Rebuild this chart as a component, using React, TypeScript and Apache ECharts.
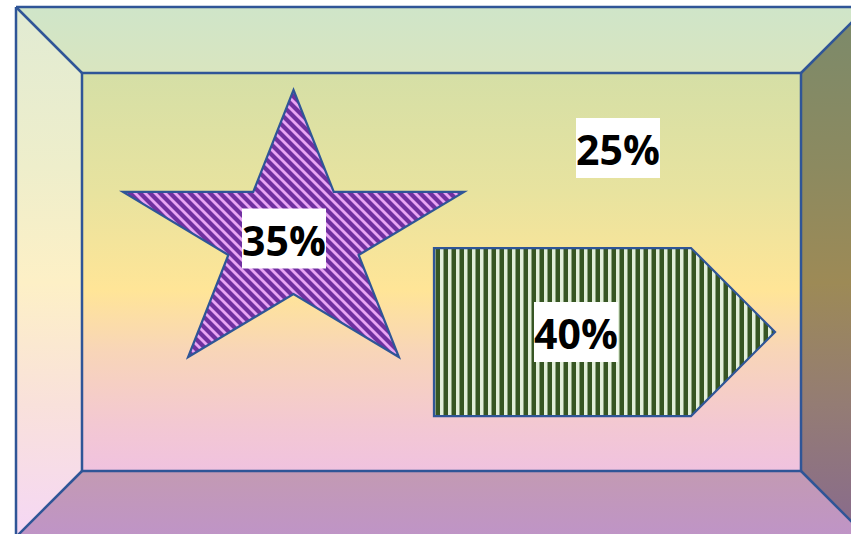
import React, { useEffect, useRef } from "react";
import * as echarts from "echarts";

// ---- data ----
const CATEGORIES = ["Slice A", "Slice B", "Slice C"];
const VALUES = [35, 25, 40];
const LABEL_SUFFIX = "%";

// ---- layout (positions / shapes, kept apart from data) ----
const SHAPE_LAYOUT = [
  { shape: "star", box: [123, 90, 341, 267], label: [284, 238.5] },
  { shape: null, box: null, label: [618, 148] },
  { shape: "homePlate", box: [434, 248, 341, 168], label: [576, 332] },
];

const BORDER = "#2f5597";

function makeTile(kind: string): { url: string; size: number } {
  const c = document.createElement("canvas");
  const size = kind === "star" ? 10 : 8;
  c.width = size;
  c.height = size;
  const ctx = c.getContext("2d")!;
  if (kind === "star") {
    ctx.fillStyle = "#7030a0";
    ctx.fillRect(0, 0, size, size);
    ctx.fillStyle = "#e8a4f4";
    for (let k = -2 * size; k <= 2 * size; k += size) {
      // band between x - y = k and x - y = k + 4
      ctx.beginPath();
      ctx.moveTo(k - 30, -30);
      ctx.lineTo(k + 4 - 30, -30);
      ctx.lineTo(k + 4 + 40, 40);
      ctx.lineTo(k + 40, 40);
      ctx.closePath();
      ctx.fill();
    }
  } else {
    ctx.fillStyle = "#375623";
    ctx.fillRect(0, 0, size, size);
    ctx.fillStyle = "#e2efd9";
    ctx.fillRect(0, 0, 3.5, size);
  }
  return { url: c.toDataURL(), size };
}

function starPoints(box: number[]) {
  const [l, t, w, h] = box;
  const pts: number[][] = [];
  for (let k = 0; k < 10; k++) {
    const a = ((-90 + k * 36) * Math.PI) / 180;
    const r = k % 2 === 0 ? 1 : 0.382;
    const nx = (r * Math.cos(a) + 0.9511) / 1.9022;
    const ny = (r * Math.sin(a) + 1) / 1.809;
    pts.push([l + nx * w, t + ny * h]);
  }
  return pts;
}

function homePlatePoints(box: number[]) {
  const [l, t, w, h] = box;
  const d = Math.min(w, h) / 2;
  return [
    [l, t],
    [l + w - d, t],
    [l + w, t + h / 2],
    [l + w - d, t + h],
    [l, t + h],
  ];
}

const vgrad = (stops: [number, string][]) =>
  new echarts.graphic.LinearGradient(
    0,
    0,
    0,
    1,
    stops.map(([offset, color]) => ({ offset, color }))
  );

export default function App() {
  const ref = useRef<HTMLDivElement>(null);
  useEffect(() => {
    if (!ref.current) return;
    const chart = echarts.init(ref.current, null, { renderer: "svg" });
    const starTile = makeTile("star");
    const plateTile = makeTile("plate");
    const patterns: Record<string, any> = {
      star: { image: starTile.url, repeat: "repeat", imageWidth: starTile.size, imageHeight: starTile.size },
      homePlate: { image: plateTile.url, repeat: "repeat", imageWidth: plateTile.size, imageHeight: plateTile.size },
    };

    const OL = 16, OT = 7, OR = 867, OB = 537;
    const IL = 82, IT = 73, IR = 801, IB = 471;

    const faces = [
      {
        points: [[OL, OT], [OR, OT], [IR, IT], [IL, IT]],
        fill: vgrad([[0, "#cfe5c9"], [1, "#d9e5bf"]]),
      },
      {
        points: [[OL, OT], [IL, IT], [IL, IB], [OL, OB]],
        fill: vgrad([[0, "#e1ebd3"], [0.3, "#eeeecb"], [0.52, "#fdf0c6"], [0.75, "#f9e1db"], [1, "#f5d7f5"]]),
      },
      {
        points: [[OR, OT], [OR, OB], [IR, IB], [IR, IT]],
        fill: vgrad([[0, "#7b8a6b"], [0.3, "#8c8a60"], [0.52, "#9d8a56"], [0.75, "#947c74"], [1, "#886a8e"]]),
      },
      {
        points: [[IL, IB], [IR, IB], [OR, OB], [OL, OB]],
        fill: vgrad([[0, "#c39ab3"], [1, "#bf94c7"]]),
      },
      {
        points: [[IL, IT], [IR, IT], [IR, IB], [IL, IB]],
        fill: vgrad([[0, "#d5dfa6"], [0.3, "#e8e39f"], [0.545, "#ffe597"], [0.7, "#f8d5b8"], [0.88, "#f3c8d2"], [1, "#f0c2df"]]),
      },
    ];

    const lineEls = [
      [[OL, OT], [OR, OT], [OR, OB], [OL, OB], [OL, OT]],
      [[IL, IT], [IR, IT], [IR, IB], [IL, IB], [IL, IT]],
      [[OL, OT], [IL, IT]],
      [[OR, OT], [IR, IT]],
      [[OR, OB], [IR, IB]],
      [[OL, OB], [IL, IB]],
    ];

    const graphic: any[] = [
      ...faces.map((f) => ({
        type: "polygon",
        z: 0,
        silent: true,
        shape: { points: f.points },
        style: { fill: f.fill },
      })),
      ...lineEls.map((pts) => ({
        type: "polyline",
        z: 1,
        silent: true,
        shape: { points: pts },
        style: { stroke: BORDER, lineWidth: 2.5, fill: null, lineJoin: "miter" },
      })),
    ];

    chart.setOption({
      animation: false,
      backgroundColor: "#ffffff",
      graphic,
      series: [
        {
          type: "custom",
          coordinateSystem: "none",
          z: 10,
          data: VALUES.map((v, i) => ({ name: CATEGORIES[i], value: [v] })),
          renderItem: (params: any, api: any) => {
            const L = SHAPE_LAYOUT[params.dataIndex];
            const children: any[] = [];
            if (L.shape && L.box) {
              const pts = L.shape === "star" ? starPoints(L.box) : homePlatePoints(L.box);
              children.push({
                type: "polygon",
                shape: { points: pts },
                style: {
                  fill: patterns[L.shape],
                  stroke: BORDER,
                  lineWidth: 2.25,
                  lineJoin: "miter",
                },
              });
            }
            const text = api.value(0) + LABEL_SUFFIX;
            children.push({
              type: "rect",
              shape: { x: L.label[0] - 42, y: L.label[1] - 30, width: 84, height: 60 },
              style: { fill: "#ffffff" },
            });
            children.push({
              type: "text",
              x: L.label[0],
              y: L.label[1] + 1,
              style: {
                text,
                font: 'bold 41px "Open Sans"',
                fill: "#000000",
                align: "center",
                verticalAlign: "middle",
              },
            });
            return { type: "group", children };
          },
        },
      ],
    });
    return () => chart.dispose();
  }, []);
  return (
    <div
      ref={ref}
      style={{ position: "absolute", left: 0, top: 0, width: 851, height: 534 }}
    />
  );
}
